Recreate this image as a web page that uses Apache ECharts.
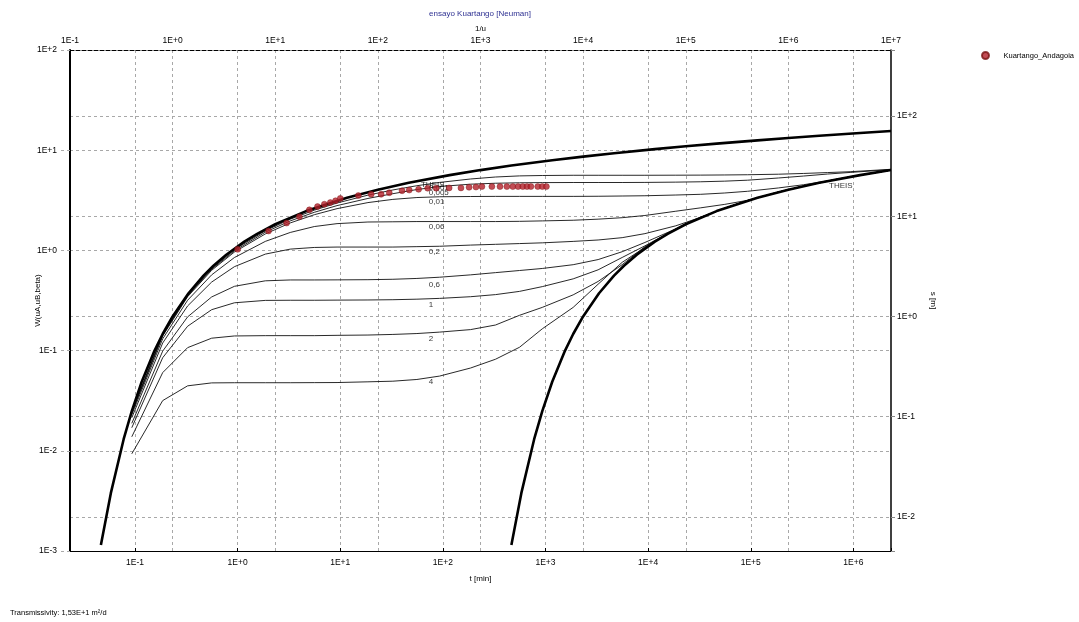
<!DOCTYPE html>
<html>
<head>
<meta charset="utf-8">
<script src="https://cdn.jsdelivr.net/npm/echarts@6/dist/echarts.min.js"></script>
<style>
  html, body { margin: 0; padding: 0; background: #fff; }
  #chart { width: 1079px; height: 622px; }
</style>
</head>
<body>
<div id="chart"></div>
<script>
// Theis curve (type A), 1/u vs W(u)
const theisAInvU = [0.2, 0.25, 0.3333, 0.4, 0.5, 0.6667, 0.8, 1, 1.4286, 2, 2.5, 3.333, 5, 6.667, 10, 20, 50, 100, 200, 500, 1000, 2000, 5000, 10000, 20000, 50000, 100000, 200000, 500000, 1000000, 2000000, 5000000, 10000000];
const theisAW = [0.001148, 0.003779, 0.01305, 0.02491, 0.0489, 0.1, 0.1464, 0.2194, 0.3738, 0.5598, 0.7024, 0.9057, 1.2227, 1.4645, 1.8229, 2.4679, 3.3547, 4.0379, 4.7261, 5.6394, 6.3315, 7.0242, 7.9402, 8.6332, 9.3263, 10.2426, 10.9357, 11.6289, 12.5451, 13.2383, 13.9314, 14.8477, 15.5409];

// Theis curve (type B), shifted to the right
const theisBInvU = [2000, 2500, 3333, 4000, 5000, 6667, 8000, 10000, 14286, 20000, 25000, 33333, 50000, 66667, 100000, 200000, 500000, 1000000, 2000000, 5000000, 10000000];
const theisBW = [0.001148, 0.003779, 0.01305, 0.02491, 0.0489, 0.1, 0.1464, 0.2194, 0.3738, 0.5598, 0.7024, 0.9057, 1.2227, 1.4645, 1.8229, 2.4679, 3.3547, 4.0379, 4.7261, 5.6394, 6.3315];

// Neuman curves, one per beta
const invU = [0.4, 0.8, 1.4, 2.4, 4, 8, 14, 24, 40, 80, 140, 240, 400, 800, 1400, 2400, 4000, 8000, 14000, 24000, 40000, 80000, 140000, 240000, 400000, 800000, 1400000, 2400000, 4000000, 10000000];
const wBeta0001 = [0.0248, 0.145, 0.358, 0.662, 1.02, 1.57, 2.05, 2.52, 2.97, 3.56, 4.01, 4.42, 4.77, 5.16, 5.40, 5.54, 5.59, 5.62, 5.62, 5.62, 5.62, 5.63, 5.64, 5.66, 5.69, 5.76, 5.86, 5.98, 6.10, 6.45];
const wBeta0005 = [0.0245, 0.143, 0.352, 0.648, 0.99, 1.52, 1.97, 2.40, 2.80, 3.30, 3.68, 4.05, 4.34, 4.58, 4.68, 4.73, 4.75, 4.76, 4.76, 4.76, 4.77, 4.80, 4.84, 4.91, 5.02, 5.28, 5.52, 5.78, 6.00, 6.40];
const wBeta001 = [0.0241, 0.140, 0.345, 0.633, 0.963, 1.46, 1.88, 2.27, 2.61, 3.00, 3.23, 3.37, 3.43, 3.45, 3.46, 3.46, 3.46, 3.46, 3.47, 3.49, 3.51, 3.57, 3.63, 3.74, 3.89, 4.20, 4.52, 4.94, 5.42, 6.33];
const wBeta006 = [0.0230, 0.131, 0.318, 0.570, 0.849, 1.23, 1.51, 1.73, 1.85, 1.92, 1.93, 1.94, 1.94, 1.94, 1.94, 1.95, 1.97, 2.00, 2.05, 2.12, 2.23, 2.46, 2.66, 2.88, 3.16, 3.82, 4.37, 4.91, 5.42, 6.33];
const wBeta02 = [0.0214, 0.119, 0.279, 0.483, 0.688, 0.918, 1.03, 1.07, 1.08, 1.08, 1.08, 1.09, 1.10, 1.13, 1.15, 1.17, 1.19, 1.23, 1.27, 1.34, 1.47, 1.76, 2.14, 2.64, 3.14, 3.82, 4.37, 4.91, 5.42, 6.33];
const wBeta06 = [0.0188, 0.0988, 0.217, 0.343, 0.438, 0.497, 0.507, 0.507, 0.508, 0.510, 0.515, 0.525, 0.540, 0.570, 0.600, 0.630, 0.660, 0.720, 0.810, 0.970, 1.20, 1.64, 2.14, 2.64, 3.14, 3.82, 4.37, 4.91, 5.42, 6.33];
const wBeta1 = [0.0170, 0.0849, 0.175, 0.256, 0.300, 0.317, 0.318, 0.318, 0.319, 0.320, 0.322, 0.326, 0.332, 0.345, 0.362, 0.390, 0.435, 0.520, 0.640, 0.850, 1.11, 1.63, 2.13, 2.64, 3.14, 3.82, 4.37, 4.91, 5.42, 6.33];
const wBeta2 = [0.0138, 0.0603, 0.107, 0.133, 0.140, 0.141, 0.141, 0.141, 0.142, 0.143, 0.145, 0.148, 0.153, 0.162, 0.180, 0.225, 0.270, 0.360, 0.490, 0.720, 1.09, 1.63, 2.13, 2.64, 3.14, 3.82, 4.37, 4.91, 5.42, 6.33];
const wBeta4 = [0.00933, 0.0317, 0.0445, 0.0476, 0.0478, 0.0478, 0.0478, 0.0479, 0.0480, 0.0488, 0.0495, 0.0515, 0.0557, 0.0670, 0.0820, 0.108, 0.165, 0.270, 0.460, 0.760, 1.07, 1.625, 2.13, 2.64, 3.14, 3.82, 4.37, 4.91, 5.42, 6.33];

// curve labels
const curveLabels = ['THEIS', '0,001', '0,005', '0,01', '0,06', '0,2', '0,6', '1', '2', '4', 'THEIS'];
const curveLabelInvU = [260, 310, 310, 310, 310, 310, 310, 310, 310, 310, 2460000];
const curveLabelW = [4.55, 4.25, 3.79, 3.08, 1.71, 0.964, 0.457, 0.288, 0.132, 0.0492, 4.44];

// observed drawdown
const tObs = [1, 2, 3, 4, 5, 6, 7, 8, 9, 10, 15, 20, 25, 30, 40, 47, 58, 71, 86, 115, 150, 180, 210, 240, 300, 360, 420, 480, 540, 600, 660, 720, 840, 930, 1020];
const sObs = [4.68, 7.14, 8.57, 9.92, 11.6, 12.5, 13.2, 13.7, 14.3, 15.1, 16.1, 16.6, 16.6, 17.2, 18.0, 18.3, 18.6, 19.1, 19.1, 19.2, 19.2, 19.5, 19.6, 19.8, 19.8, 19.8, 19.8, 19.8, 19.8, 19.8, 19.8, 19.8, 19.8, 19.8, 19.8];

const FONT = 'Liberation Sans, Arial, sans-serif';

const pairs = (xs, ys) => xs.map((x, i) => [x, ys[i]]);

const powLabel = v => {
  const e = Math.log10(v);
  const r = Math.round(e);
  if (Math.abs(e - r) > 1e-6) return '';
  return '1E' + (r < 0 ? '-' : '+') + Math.abs(r);
};

const gridLine = { show: true, showMinLine: false, showMaxLine: false, lineStyle: { color: '#a8a8a8', type: [3, 3], width: 1 } };
const labelStyle = { color: '#000', fontSize: 8.5, fontFamily: FONT, formatter: powLabel };

const chart = echarts.init(document.getElementById('chart'));

const thin = (data) => ({
  type: 'line', xAxisIndex: 1, yAxisIndex: 0, data: data,
  symbol: 'none', silent: true, lineStyle: { color: '#111', width: 0.9 }, z: 3
});

const thick = (data) => ({
  type: 'line', xAxisIndex: 1, yAxisIndex: 0, data: data,
  symbol: 'none', silent: true, lineStyle: { color: '#000', width: 2.6 }, z: 4
});

const option = {
  animation: false,
  backgroundColor: '#fff',
  textStyle: { fontFamily: FONT },
  grid: { left: 70, right: 188, top: 50, bottom: 71 },
  legend: {
    data: ['Kuartango_Andagoia'],
    left: 976, top: 46, itemWidth: 20, itemHeight: 7, itemGap: 5,
    textStyle: { fontSize: 7.5, color: '#000', fontFamily: FONT, padding: [0, 0, 0, 3] }
  },
  graphic: [
    { type: 'text', x: 480, y: 14, style: { text: 'ensayo Kuartango [Neuman]', fill: '#2e3192', font: '8px ' + FONT, align: 'center', verticalAlign: 'middle' } },
    { type: 'text', x: 10, y: 613, style: { text: 'Transmissivity: 1,53E+1 m²/d', fill: '#000', font: '7.5px ' + FONT, align: 'left', verticalAlign: 'middle' } }
  ],
  xAxis: [
    {
      type: 'log', position: 'bottom', min: 0.02325, max: 2325000,
      name: 't [min]', nameLocation: 'middle', nameGap: 24,
      nameTextStyle: { fontSize: 8, color: '#000', fontFamily: FONT },
      axisLine: { show: true, lineStyle: { color: '#000', width: 1.2 } },
      axisTick: { show: true, inside: true, length: 3, lineStyle: { color: '#000' } },
      axisLabel: Object.assign({ margin: 7 }, labelStyle),
      splitLine: gridLine
    },
    {
      type: 'log', position: 'top', min: 0.1, max: 10000000,
      name: '1/u', nameLocation: 'middle', nameGap: 17, nameMoveOverlap: false,
      nameTextStyle: { fontSize: 8, color: '#000', fontFamily: FONT },
      axisLine: { show: true, lineStyle: { color: '#000', width: 1.2, type: [4, 2] } },
      axisTick: { show: false },
      axisLabel: Object.assign({ margin: 5, showMinLabel: true, showMaxLabel: true }, labelStyle),
      splitLine: gridLine
    }
  ],
  yAxis: [
    {
      type: 'log', position: 'left', min: 0.001, max: 100,
      name: 'W(uA,uB,beta)', nameLocation: 'middle', nameGap: 28, nameRotate: 90, nameMoveOverlap: false,
      nameTextStyle: { fontSize: 8, color: '#000', fontFamily: FONT },
      axisLine: { show: true, lineStyle: { color: '#000', width: 2 } },
      axisTick: { show: true, length: 12, lineStyle: { color: '#aaa', type: [3, 3] } },
      axisLabel: Object.assign({ margin: 13, showMinLabel: true, showMaxLabel: true }, labelStyle),
      splitLine: gridLine
    },
    {
      type: 'log', position: 'right', min: 0.00457, max: 457,
      name: 's [m]', nameLocation: 'middle', nameGap: 38, nameRotate: -90,
      nameTextStyle: { fontSize: 8, color: '#000', fontFamily: FONT },
      axisLine: { show: true, lineStyle: { color: '#000', width: 1.5 } },
      axisTick: { show: true, length: 4, lineStyle: { color: '#888' } },
      axisLabel: Object.assign({ margin: 6 }, labelStyle),
      splitLine: gridLine
    }
  ],
  series: [
    thin(pairs(invU, wBeta0001)),
    thin(pairs(invU, wBeta0005)),
    thin(pairs(invU, wBeta001)),
    thin(pairs(invU, wBeta006)),
    thin(pairs(invU, wBeta02)),
    thin(pairs(invU, wBeta06)),
    thin(pairs(invU, wBeta1)),
    thin(pairs(invU, wBeta2)),
    thin(pairs(invU, wBeta4)),
    thick(pairs(theisAInvU, theisAW)),
    thick(pairs(theisBInvU, theisBW)),
    {
      type: 'scatter', xAxisIndex: 1, yAxisIndex: 0, silent: true, z: 5,
      symbolSize: 1, itemStyle: { color: 'rgba(0,0,0,0)' },
      data: curveLabels.map((n, i) => ({ value: [curveLabelInvU[i], curveLabelW[i]], name: n })),
      label: {
        show: true, position: 'right', distance: 0, formatter: p => p.name,
        fontSize: 8, color: '#000', fontFamily: FONT
      }
    },
    {
      name: 'Kuartango_Andagoia', type: 'scatter', xAxisIndex: 0, yAxisIndex: 1, z: 10,
      symbol: 'circle', symbolSize: 6,
      itemStyle: { color: '#b3202a', borderColor: '#7a1414', borderWidth: 0.5 },
      data: pairs(tObs, sObs)
    }
  ]
};

chart.setOption(option);
</script>
</body>
</html>
